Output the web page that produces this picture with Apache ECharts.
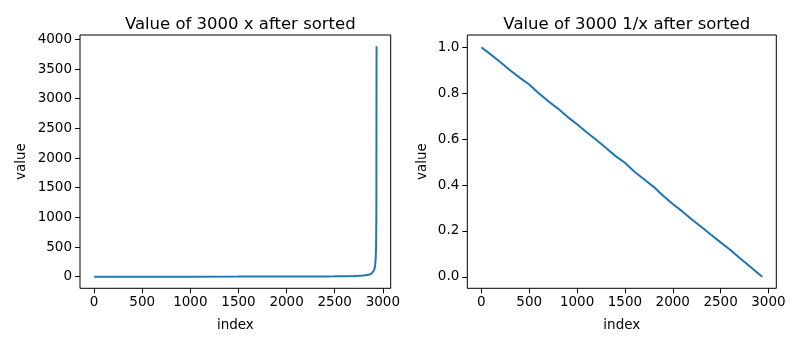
<!DOCTYPE html>
<html>
<head>
<meta charset="utf-8">
<script src="https://cdn.jsdelivr.net/npm/echarts@6/dist/echarts.min.js"></script>
<style>
html,body{margin:0;padding:0;background:#fff;}
#c{width:802px;height:346px;}
</style>
</head>
<body>
<div id="c"></div>
<script>
// ---- data ----
var leftIndex  = [0, 500, 1000, 1500, 2000, 2200, 2400, 2500, 2600, 2700, 2750, 2800, 2850, 2880, 2900, 2910, 2920, 2926, 2930, 2933, 2935];
var leftValues = [1.0, 1.2, 1.5, 2.0, 3.1, 4.0, 5.5, 6.7, 8.5, 12, 15, 21, 32, 50, 80, 110, 190, 300, 500, 1000, 3885];

var rightIndex  = [0, 100, 200, 300, 400, 500, 600, 700, 800, 900, 1000, 1100, 1200, 1300, 1400, 1500, 1600, 1700, 1800, 1900, 2000, 2100, 2200, 2300, 2400, 2500, 2600, 2700, 2800, 2900, 2935];
var rightValues = [1.000, 0.968, 0.935, 0.900, 0.868, 0.838, 0.800, 0.765, 0.733, 0.697, 0.665, 0.630, 0.597, 0.562, 0.527, 0.497, 0.458, 0.425, 0.392, 0.353, 0.317, 0.285, 0.250, 0.217, 0.183, 0.150, 0.118, 0.082, 0.047, 0.012, 0.000];

var xTicks      = [0, 500, 1000, 1500, 2000, 2500, 3000];
var leftYTicks  = [0, 500, 1000, 1500, 2000, 2500, 3000, 3500, 4000];
var rightYTicks = [0.0, 0.2, 0.4, 0.6, 0.8, 1.0];

var titles = ['Value of 3000 x after sorted', 'Value of 3000 1/x after sorted'];

function pairs(xs, ys){ var out=[]; for(var i=0;i<xs.length;i++) out.push([xs[i], ys[i]]); return out; }

var FONT = 'DejaVu Sans';
var labelStyle = {color:'#000', fontFamily:FONT, fontSize:13.5};

function xAxisCfg(gi){
  return {
    type:'value', gridIndex:gi, min:-147, max:3082,
    name:'index', nameLocation:'middle', nameGap:30,
    nameTextStyle:{color:'#000', fontFamily:FONT, fontSize:13.5},
    axisLine:{show:false, onZero:false},
    axisTick:{show:true, inside:false, length:5, lineStyle:{color:'#000', width:1}, customValues:xTicks},
    axisLabel:Object.assign({margin:7, customValues:xTicks, formatter:function(v){return String(Math.round(v));}}, labelStyle),
    splitLine:{show:false}
  };
}
function yAxisCfg(gi, mn, mx, ticks, fmt, gap){
  return {
    type:'value', gridIndex:gi, min:mn, max:mx,
    name:'value', nameLocation:'middle', nameGap:gap, nameRotate:90,
    nameTextStyle:{color:'#000', fontFamily:FONT, fontSize:13.5},
    axisLine:{show:false, onZero:false},
    axisTick:{show:true, inside:false, length:5, lineStyle:{color:'#000', width:1}, customValues:ticks},
    axisLabel:Object.assign({margin:8, customValues:ticks, formatter:fmt}, labelStyle),
    splitLine:{show:false}
  };
}

var chart = echarts.init(document.getElementById('c'), null, {renderer:'canvas'});
chart.setOption({
  animation:false,
  backgroundColor:'#fff',
  title:[
    {text:titles[0], left:235.3, top:11, textAlign:'center', textStyle:{color:'#000', fontFamily:FONT, fontSize:16.5, fontWeight:'normal'}},
    {text:titles[1], left:621.8, top:11, textAlign:'center', textStyle:{color:'#000', fontFamily:FONT, fontSize:16.5, fontWeight:'normal'}}
  ],
  grid:[
    {left:80, top:35, width:310.7, height:253.3, show:true, borderColor:'#000', borderWidth:1, backgroundColor:'transparent'},
    {left:467.3, top:35, width:309, height:253.3, show:true, borderColor:'#000', borderWidth:1, backgroundColor:'transparent'}
  ],
  xAxis:[xAxisCfg(0), xAxisCfg(1)],
  yAxis:[
    yAxisCfg(0, -195, 4073, leftYTicks, function(v){return String(Math.round(v));}, 52),
    yAxisCfg(1, -0.05, 1.0536, rightYTicks, function(v){return v.toFixed(1);}, 38)
  ],
  series:[
    {type:'line', xAxisIndex:0, yAxisIndex:0, data:pairs(leftIndex, leftValues), showSymbol:false, lineStyle:{color:'#1f77b4', width:2}, smooth:false},
    {type:'line', xAxisIndex:1, yAxisIndex:1, data:pairs(rightIndex, rightValues), showSymbol:false, lineStyle:{color:'#1f77b4', width:2}, smooth:false}
  ]
});
</script>
</body>
</html>
